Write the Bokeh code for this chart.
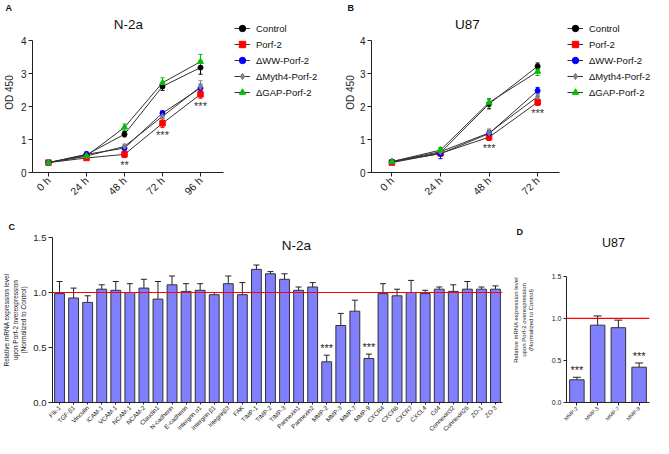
import numpy as np
from bokeh.plotting import figure
from bokeh.models import (ColumnDataSource, Whisker, TeeHead, Legend, LegendItem, Label, Span,
                          FixedTicker, FactorRange, Range1d, NumeralTickFormatter)
from bokeh.layouts import row, column
from bokeh.embed import file_html
from bokeh.resources import INLINE
from bokeh.core.properties import value

FONT = "Liberation Sans"

# ---------------- data ----------------
series_names = ["Control", "Porf-2", "ΔWW-Porf-2", "ΔMyth4-Porf-2", "ΔGAP-Porf-2"]

times_a = ["0 h", "24 h", "48 h", "72 h", "96 h"]
control_a = [0.30, 0.54, 1.16, 2.61, 3.18]
control_a_err = [0.03, 0.05, 0.08, 0.12, 0.20]
porf_a = [0.30, 0.44, 0.55, 1.49, 2.37]
porf_a_err = [0.03, 0.04, 0.10, 0.13, 0.12]
ww_a = [0.30, 0.55, 0.74, 1.80, 2.56]
ww_a_err = [0.03, 0.08, 0.06, 0.07, 0.12]
myth_a = [0.30, 0.50, 0.79, 1.70, 2.60]
myth_a_err = [0.03, 0.05, 0.07, 0.06, 0.18]
gap_a = [0.30, 0.50, 1.37, 2.72, 3.36]
gap_a_err = [0.03, 0.04, 0.10, 0.15, 0.22]
stars_a = ["", "", "**", "***", "***"]

times_b = ["0 h", "24 h", "48 h", "72 h"]
control_b = [0.32, 0.60, 2.08, 3.22]
control_b_err = [0.05, 0.05, 0.15, 0.10]
porf_b = [0.30, 0.58, 1.07, 2.13]
porf_b_err = [0.05, 0.08, 0.10, 0.10]
ww_b = [0.33, 0.57, 1.18, 2.48]
ww_b_err = [0.05, 0.15, 0.10, 0.10]
myth_b = [0.33, 0.63, 1.20, 2.30]
myth_b_err = [0.04, 0.10, 0.12, 0.08]
gap_b = [0.33, 0.68, 2.12, 3.06]
gap_b_err = [0.04, 0.08, 0.12, 0.12]
stars_b = ["", "", "***", "***"]

genes_c = ["Flk-1", "TGF-β1", "Vinculin", "ICAM-1", "VCAM-1", "NCAM-1", "NCAM-2", "Claudin1",
           "N-cadherin", "E-cadherin", "Intergrin α1", "Intergrin β1", "Integrinβ3", "FAK",
           "TIMP-1", "TIMP-2", "TIMP-3", "Pannexin1", "Pannexin2", "MMP-2", "MMP-3", "MMP-7",
           "MMP-9", "CXCR4", "CXCR6", "CXCR7", "CXCL4", "Cd4", "Connexin32", "Connexin26",
           "ZO-1", "ZO-3"]
values_c = [0.99, 0.95, 0.91, 1.03, 1.02, 1.00, 1.04, 0.94, 1.07, 1.01, 1.02, 0.98, 1.08, 0.98,
            1.21, 1.17, 1.12, 1.02, 1.05, 0.37, 0.70, 0.83, 0.40, 0.99, 0.97, 1.00, 0.99, 1.03,
            1.01, 1.03, 1.03, 1.03]
errors_c = [0.11, 0.09, 0.06, 0.04, 0.08, 0.08, 0.08, 0.16, 0.08, 0.07, 0.06, 0.02, 0.07, 0.11,
            0.04, 0.02, 0.05, 0.03, 0.04, 0.06, 0.11, 0.10, 0.04, 0.09, 0.06, 0.11, 0.03, 0.02,
            0.06, 0.07, 0.02, 0.03]
stars_c = ["***" if g in ("MMP-2", "MMP-9") else "" for g in genes_c]

genes_d = ["MMP-2", "MMP-3", "MMP-7", "MMP-9"]
values_d = [0.27, 0.92, 0.89, 0.42]
errors_d = [0.03, 0.11, 0.09, 0.05]
stars_d = ["***", "", "", "***"]

# ---------------- style ----------------
colors = ["#000000", "#FF0000", "#0000FF", "#808080", "#00C000"]
markers = ["circle", "square", "circle", "diamond", "triangle"]
msizes = [5, 5.5, 5, 6, 6]
BAR = "#8080FF"
AX = "#222222"
H1, H2 = 206, 232
YLAB = "Relative mRNA expression level\nupon Porf-2 overexpression\n(Normalized to Control)"


def style_axes(p, tick_size):
    p.axis.axis_line_color = AX
    p.axis.major_tick_line_color = AX
    p.axis.minor_tick_line_color = None
    p.axis.major_tick_in = 0
    p.axis.major_tick_out = 4
    p.axis.major_label_text_font = FONT
    p.axis.major_label_text_font_size = tick_size
    p.axis.major_label_text_color = "#222222"
    p.axis.major_label_standoff = 2
    p.axis.axis_label_text_font = FONT
    p.axis.axis_label_text_font_style = "normal"
    p.axis.axis_label_text_color = "#222222"
    p.xgrid.visible = False
    p.ygrid.visible = False
    p.outline_line_color = None


def letter_title(p, letter, offset, standoff):
    p.title.text = letter
    p.title.align = "left"
    p.title.offset = offset
    p.title.standoff = standoff
    p.title.text_font = FONT
    p.title.text_font_size = "9px"
    p.title.text_font_style = "bold"
    p.title.text_color = "#111111"


def lab(p, text, x, y, size):
    p.add_layout(Label(x=x, y=y, x_units="screen", y_units="screen", text=text,
                       text_font=FONT, text_font_size=size, text_align="center",
                       text_baseline="middle", text_color="#111111"))


def line_panel(title, times, data, stars, x_bounds, x_end, y_end, width, bl, leg_x,
               ylab_standoff, letter, letter_off):
    p = figure(width=width, height=H1, x_range=Range1d(x_bounds[0], x_end),
               y_range=Range1d(0, y_end),
               min_border_left=bl, min_border_right=0, min_border_top=12, min_border_bottom=34,
               output_backend="svg", toolbar_location=None)
    xs = list(range(len(times)))
    srcs = []
    line_rs = []
    for vals, errs in data:
        v = np.array(vals)
        e = np.array(errs)
        src = ColumnDataSource(dict(x=xs, y=vals, lo=list(v - e), hi=list(v + e)))
        srcs.append(src)
        line_rs.append(p.line("x", "y", source=src, line_color="#333333", line_width=1))
    items = []
    for i, src in enumerate(srcs):
        p.add_layout(Whisker(base="x", upper="hi", lower="lo", source=src, dimension="height",
                             line_color=colors[i], line_width=1,
                             upper_head=TeeHead(size=4, line_color=colors[i], line_width=1),
                             lower_head=TeeHead(size=4, line_color=colors[i], line_width=1)))
    for i, src in enumerate(srcs):
        sr = p.scatter("x", "y", source=src, marker=markers[i], size=msizes[i],
                       fill_color=colors[i], line_color=colors[i])
        items.append(LegendItem(label=series_names[i], renderers=[line_rs[i], sr]))
    pv = np.array(data[1][0]) - np.array(data[1][1])
    ssrc = ColumnDataSource(dict(x=xs, y=list(pv - 0.05), t=stars))
    p.text("x", "y", text="t", source=ssrc, text_font=value(FONT), text_font_size="11px",
           text_align="center", text_baseline="top", text_color="#333333")
    legend = Legend(items=items, location=(leg_x, 72), glyph_width=16, glyph_height=16,
                    label_height=16, spacing=0, padding=0, margin=0, label_standoff=6,
                    label_text_font=FONT, label_text_font_size="9.5px",
                    label_text_color="#111111",
                    background_fill_alpha=0, border_line_alpha=0)
    p.add_layout(legend)
    style_axes(p, "10px")
    p.xaxis.ticker = FixedTicker(ticks=xs)
    p.xaxis.major_label_overrides = {i: t for i, t in enumerate(times)}
    p.xaxis.major_label_orientation = np.pi / 4
    p.xaxis.major_label_text_font_size = "10.5px"
    p.xaxis.bounds = x_bounds
    p.yaxis.ticker = FixedTicker(ticks=[0, 1, 2, 3, 4])
    p.yaxis.bounds = (0, 4)
    p.yaxis.axis_label = "OD 450"
    p.yaxis.axis_label_text_font_size = "10px"
    p.yaxis.axis_label_standoff = ylab_standoff
    lab(p, title, 96, 148, "13.5px")
    letter_title(p, letter, letter_off, 0)
    return p


pA = line_panel("N-2a", times_a,
                [(control_a, control_a_err), (porf_a, porf_a_err), (ww_a, ww_a_err),
                 (myth_a, myth_a_err), (gap_a, gap_a_err)],
                stars_a, (-0.42, 4.6), 7.42, 4.85, 330, 30, 202, 3, "A", -27)
pB = line_panel("U87", times_b,
                [(control_b, control_b_err), (porf_b, porf_b_err), (ww_b, ww_b_err),
                 (myth_b, myth_b_err), (gap_b, gap_b_err)],
                stars_b, (-0.42, 3.45), 5.385, 4.85, 323, 41, 196, 1, "B", -24)


def bar_panel(genes, vals, errs, stars, width, bl, br, bt, bb, y_end, tick_y, tick_x,
              star_size, head, title, title_xy, title_size, ylab_size, ylab_standoff,
              letter, letter_off, letter_standoff):
    p = figure(width=width, height=H2, x_range=FactorRange(factors=genes),
               y_range=Range1d(0, y_end), min_border_left=bl, min_border_right=br,
               min_border_top=bt, min_border_bottom=bb,
               output_backend="svg", toolbar_location=None)
    v = np.array(vals)
    e = np.array(errs)
    src = ColumnDataSource(dict(g=genes, v=vals, hi=list(v + e), sy=list(v + e + 0.01), t=stars))
    p.vbar(x="g", top="v", width=0.7, source=src, fill_color=BAR, line_color="#333333",
           line_width=1)
    p.add_layout(Whisker(base="g", upper="hi", lower="v", source=src, dimension="height",
                         line_color=AX, line_width=1,
                         upper_head=TeeHead(size=head, line_color=AX, line_width=1),
                         lower_head=None))
    p.add_layout(Span(location=1.0, dimension="width", line_color="#FF0000", line_width=1.2))
    p.text("g", "sy", text="t", source=src, text_font=value(FONT), text_font_size=star_size,
           text_align="center", text_baseline="bottom", text_color="#222222")
    style_axes(p, tick_y)
    p.xaxis.major_label_text_font_size = tick_x
    p.xaxis.major_label_orientation = np.pi / 4
    p.xaxis.major_tick_out = 2
    p.yaxis.ticker = FixedTicker(ticks=[0, 0.5, 1.0, 1.5])
    p.yaxis.formatter = NumeralTickFormatter(format="0.0")
    p.yaxis.bounds = (0, 1.5)
    p.yaxis.axis_label = YLAB
    p.yaxis.axis_label_text_font_size = ylab_size
    p.yaxis.axis_label_standoff = ylab_standoff
    lab(p, title, title_xy[0], title_xy[1], title_size)
    letter_title(p, letter, letter_off, letter_standoff)
    return p


pC = bar_panel(genes_c, values_c, errors_c, stars_c, 510, 47, 8, 31, 36, 1.5, "9.5px", "6.2px",
               "11px", 6, "N-2a", (244, 157), "13.5px", "6.5px", 3, "C", -44, 12)
pD = bar_panel(genes_d, values_d, errors_d, stars_d, 143, 53, 4, 20, 34, 1.963, "7px", "5.3px",
               "11px", 8, "U87", (47, 160), "12.5px", "6px", 15, "D", -50, 1)
pD.axis.major_tick_out = 3

layout = column(row(pA, pB), row(pC, pD))
open("out.html", "w").write(file_html(layout, INLINE))
